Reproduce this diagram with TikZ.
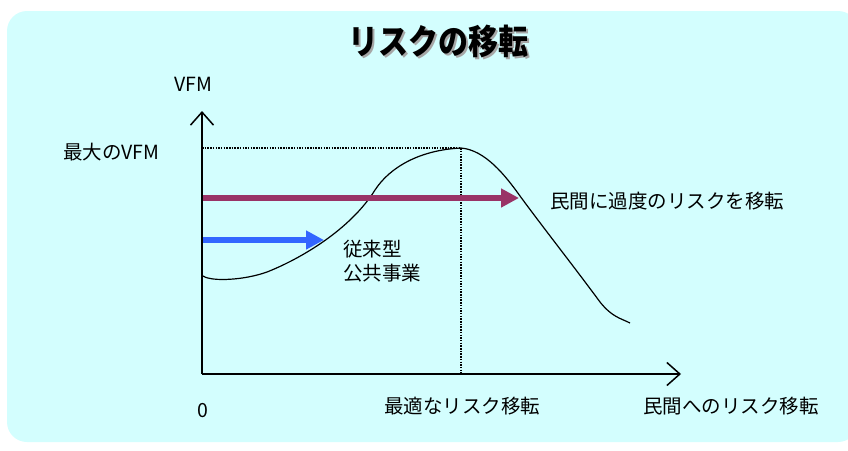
\documentclass[tikz,border=0pt]{standalone}
\usepackage{fontspec}
\setmainfont{Noto Sans CJK JP}
\usetikzlibrary{arrows.meta}
\definecolor{bgcyan}{HTML}{D3FEFE}
\definecolor{maroon}{HTML}{993366}
\definecolor{blueA}{HTML}{3366FF}
\tikzset{
  lbl/.style={inner sep=0pt, font=\fontsize{19.5}{24}\selectfont, text=black},
  titlefont/.style={inner sep=0pt, font=\fontsize{30}{36}\selectfont\bfseries},
  axis/.style={line width=1.5pt, -{Straight Barb[length=13pt,width=23pt,line width=1.5pt]}},
  guide/.style={line width=1.5pt, dash pattern=on 1.5pt off 1.2pt},
  fatarrow/.style={line width=6pt, -{Triangle[length=18pt,width=18pt]}},
  curveline/.style={line width=1.2pt, line join=round}
}
\begin{document}
\begin{tikzpicture}[x=1pt,y=-1pt]
\useasboundingbox (0,0) rectangle (848,450);
\fill[bgcyan, rounded corners=20pt] (7,11) rectangle (858,442);
% title with its shadow
\node[titlefont, text=black!35] at (440.5,43.5) {\scalebox{1}[1.15]{リスクの移転}};
\node (title) [titlefont] at (438,41) {\scalebox{1}[1.15]{リスクの移転}};
% coordinates
\coordinate (O) at (202,374);
\coordinate (ytip) at (202,111);
\coordinate (xtip) at (681,374);
\coordinate (peak) at (461,148);
\coordinate (peakx) at (461,374);
\coordinate (peaky) at (202,148);
\coordinate (m0) at (202,198);
\coordinate (m1) at (519,198);
\coordinate (b0) at (202,240);
\coordinate (b1) at (324,240);
% guides
\draw[guide] (peaky) -- (peak) -- (peakx);
% curve
\draw[curveline] (203,276) .. controls (212,282) and (245,280) .. (267,272)
  .. controls (300,259) and (350,230) .. (375,190)
  .. controls (390,167) and (420,150) .. (peak)
  .. controls (485,150) and (505,175) .. (520,196)
  .. controls (545,230) and (575,268) .. (600,302)
  .. controls (612,317) and (620,318) .. (630,323);
% arrows
\draw[fatarrow, maroon] (m0) -- (m1);
\draw[fatarrow, blueA] (b0) -- (b1);
% axes
\draw[axis] (O) -- (ytip);
\draw[axis] (O) -- (xtip);
% labels
\node (vfm) [lbl, anchor=center] at (193,84) {VFM};
\node (maxvfm) [lbl, anchor=west] at (63,152) {最大のVFM};
\node (excess) [lbl, anchor=west] at (550,201) {民間に過度のリスクを移転};
\node (trad) [lbl, anchor=west, align=left] at (343,261) {従来型\\公共事業};
\node (zero) [lbl, anchor=center] at (203,411) {0};
\node (opt) [lbl, anchor=center] at (462,406) {最適なリスク移転};
\node (xlab) [lbl, anchor=west] at (643,406) {民間へのリスク移転};
\end{tikzpicture}
\end{document}
